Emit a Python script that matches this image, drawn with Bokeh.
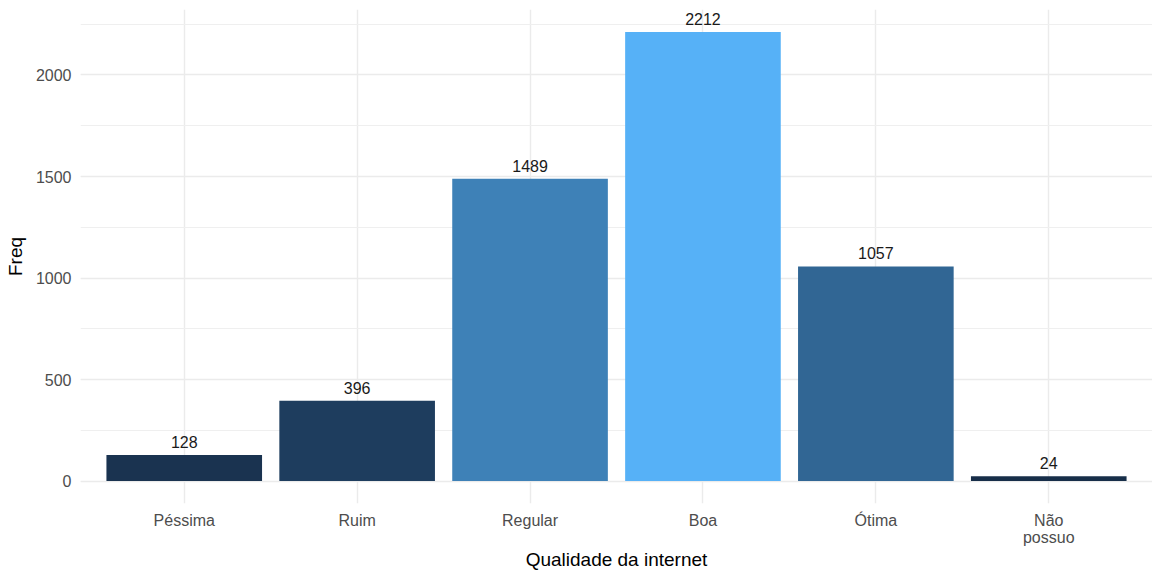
from bokeh.plotting import figure
from bokeh.models import ColumnDataSource, Range1d, FixedTicker, SingleIntervalTicker
from bokeh.core.properties import value
from bokeh.embed import file_html
from bokeh.resources import INLINE

categories = ["Péssima", "Ruim", "Regular", "Boa", "Ótima", "Não\npossuo"]
freq = [128, 396, 1489, 2212, 1057, 24]
bar_colors = ["#1A3350", "#1E3D5E", "#3E81B7", "#56B1F7", "#316694", "#172E49"]

xs = list(range(1, len(categories) + 1))
src = ColumnDataSource(dict(x=xs, top=freq, color=bar_colors, label=[str(v) for v in freq]))

FONT = "Liberation Sans"
ymax = max(freq)

p = figure(width=1152, height=572, output_backend="svg", toolbar_location=None,
           x_range=Range1d(0.4, 6.6), y_range=Range1d(-0.05 * ymax, 1.05 * ymax),
           min_border_left=80, min_border_right=0, min_border_top=9, min_border_bottom=66)
p.outline_line_color = None
p.background_fill_color = "white"
p.border_fill_color = "white"

p.vbar(x="x", top="top", bottom=0, width=0.9, fill_color="color", line_color=None, source=src)
p.text(x="x", y="top", text="label", source=src, text_align="center", text_baseline="bottom",
       y_offset=-7, text_font=value(FONT), text_font_size="16px", text_color="#1A1A1A")

# axes
p.xaxis.ticker = FixedTicker(ticks=xs)
p.xaxis.major_label_overrides = {i: c for i, c in zip(xs, categories)}
p.yaxis.ticker = SingleIntervalTicker(interval=500, num_minor_ticks=2)
for ax in (p.xaxis, p.yaxis):
    ax.axis_line_color = None
    ax.major_tick_line_color = None
    ax.minor_tick_line_color = None
    ax.major_tick_out = 0
    ax.major_tick_in = 0
    ax.minor_tick_out = 0
    ax.major_label_text_font = FONT
    ax.major_label_text_font_size = "16px"
    ax.major_label_text_color = "#4D4D4D"
    ax.axis_label_text_font = FONT
    ax.axis_label_text_font_size = "19px"
    ax.axis_label_text_font_style = "normal"
    ax.axis_label_text_color = "black"
p.xaxis.axis_label = "Qualidade da internet"
p.yaxis.axis_label = "Freq"
p.xaxis.major_label_text_line_height = 1.0
p.xaxis.major_label_standoff = 8
p.xaxis.axis_label_standoff = 0
p.yaxis.major_label_standoff = 9
p.yaxis.axis_label_standoff = 7

# grids
p.xgrid.grid_line_color = "#EBEBEB"
p.xgrid.grid_line_width = 1.4
p.ygrid.grid_line_color = "#EBEBEB"
p.ygrid.grid_line_width = 1.4
p.ygrid.minor_grid_line_color = "#EFEFEF"
p.ygrid.minor_grid_line_width = 1.1

open("out.html", "w").write(file_html(p, INLINE))
